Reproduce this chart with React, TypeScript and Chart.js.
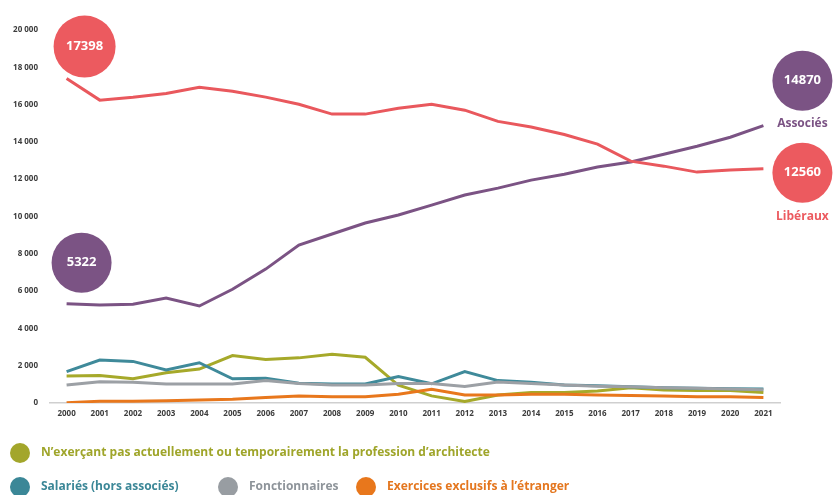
import React, { useEffect, useRef } from "react";
import { Chart, registerables } from "chart.js";

Chart.register(...registerables);

const years = ["2000","2001","2002","2003","2004","2005","2006","2007","2008","2009","2010","2011","2012","2013","2014","2015","2016","2017","2018","2019","2020","2021"];

const liberaux = [17398,16240,16400,16600,16930,16720,16400,16020,15490,15490,15800,16020,15700,15100,14800,14400,13880,12970,12700,12380,12490,12560];
const associes = [5322,5250,5300,5630,5200,6100,7180,8470,9060,9650,10080,10610,11150,11520,11950,12270,12650,12920,13340,13770,14250,14870];
const nonExercants = [1450,1470,1300,1620,1820,2540,2330,2420,2620,2450,950,380,80,430,560,560,640,820,700,670,670,560];
const salaries = [1680,2300,2230,1770,2160,1300,1330,1060,1020,1020,1420,1030,1680,1200,1110,960,930,870,820,790,770,750];
const fonctionnaires = [960,1140,1110,1020,1020,1020,1200,1050,960,960,1050,1050,880,1130,1050,960,900,870,820,790,750,710];
const etranger = [20,100,100,120,160,200,290,380,340,340,470,730,430,430,470,470,430,400,380,340,340,290];

const yTicks = [0,2000,4000,6000,8000,10000,12000,14000,16000,18000,20000];

const legendRows = [
  [{ label: "N\u2019exerçant pas actuellement ou temporairement la profession d\u2019architecte", color: "#a3a62b", text: "#9fa52a", x: 20 }],
  [
    { label: "Salariés (hors associés)", color: "#3b8797", text: "#3b8797", x: 20 },
    { label: "Fonctionnaires", color: "#989da2", text: "#8e949a", x: 228 },
    { label: "Exercices exclusifs à l\u2019étranger", color: "#e8771c", text: "#e4761e", x: 366 },
  ],
];

const fmt = (v: number) => {
  if (v < 1000) return String(v);
  return `${Math.floor(v / 1000)} ${String(v % 1000).padStart(3, "0")}`;
};

const FONT = "'Open Sans', 'DejaVu Sans', sans-serif";

export default function App() {
  const ref = useRef<HTMLCanvasElement | null>(null);

  useEffect(() => {
    document.body.style.margin = "0";
    const canvas = ref.current;
    if (!canvas) return;
    const last = years.length - 1;

    const bubbles = [
      { ds: 0, idx: 0, dx: 18, dy: -32, r: 31, color: "#ec5a5f" },
      { ds: 1, idx: 0, dx: 15, dy: -41, r: 30, color: "#7b5384" },
      { ds: 1, idx: last, dx: 39, dy: -45, r: 30, color: "#7b5384", label: "Associés", labelDy: 43 },
      { ds: 0, idx: last, dx: 39, dy: 4, r: 30, color: "#ec5a5f", label: "Libéraux", labelDy: 44 },
    ];

    const bubblePlugin = {
      id: "bubbles",
      afterDatasetsDraw(chart: any) {
        const ctx = chart.ctx;
        const xs = chart.scales.x;
        const ys = chart.scales.y;
        ctx.save();
        for (const b of bubbles) {
          const v = chart.data.datasets[b.ds].data[b.idx] as number;
          const cx = xs.getPixelForValue(b.idx) + b.dx;
          const cy = ys.getPixelForValue(v) + b.dy;
          ctx.beginPath();
          ctx.arc(cx, cy, b.r, 0, Math.PI * 2);
          ctx.fillStyle = b.color;
          ctx.fill();
          ctx.fillStyle = "#ffffff";
          ctx.font = `bold 13px ${FONT}`;
          ctx.textAlign = "center";
          ctx.textBaseline = "middle";
          ctx.fillText(String(v), cx, cy);
          if (b.label) {
            ctx.fillStyle = b.color;
            ctx.font = `bold 12px ${FONT}`;
            ctx.fillText(b.label, cx, cy + (b.labelDy as number));
          }
        }
        ctx.restore();
      },
    };

    const legendPlugin = {
      id: "customLegend",
      afterDraw(chart: any) {
        const ctx = chart.ctx;
        ctx.save();
        ctx.font = `bold 12px ${FONT}`;
        ctx.textBaseline = "middle";
        ctx.textAlign = "left";
        const rowY = [453, 487];
        legendRows.forEach((row, ri) => {
          row.forEach((item) => {
            ctx.beginPath();
            ctx.arc(item.x, rowY[ri], 10, 0, Math.PI * 2);
            ctx.fillStyle = item.color;
            ctx.fill();
            ctx.fillStyle = item.text;
            ctx.fillText(item.label, item.x + 21, rowY[ri]);
          });
        });
        ctx.restore();
      },
    };

    const mk = (label: string, data: number[], color: string) => ({
      label,
      data,
      borderColor: color,
      backgroundColor: color,
      borderWidth: 3,
      pointRadius: 0,
      tension: 0,
      fill: false,
    });

    const chart = new Chart(canvas, {
      type: "line",
      data: {
        labels: years,
        datasets: [
          mk("Libéraux", liberaux, "#e9585d"),
          mk("Associés", associes, "#7b5384"),
          mk("Exercices exclusifs à l'étranger", etranger, "#e8771c"),
          mk("Fonctionnaires", fonctionnaires, "#9ca0a5"),
          mk("Salariés (hors associés)", salaries, "#3f8a9a"),
          mk("N'exerçant pas", nonExercants, "#a6a92a"),
        ],
      },
      options: {
        responsive: false,
        animation: false,
        layout: { padding: { top: 30, right: 55, bottom: 70, left: 0 } },
        plugins: { legend: { display: false }, tooltip: { enabled: false } },
        scales: {
          x: {
            offset: true,
            grid: { display: false, drawTicks: false },
            border: { display: true, color: "#cfcfcf", width: 1.5 },
            ticks: {
              padding: 6,
              color: "#3c3c3c",
              font: { family: FONT, size: 8, weight: "bold" },
              maxRotation: 0,
              autoSkip: false,
            },
            afterFit: (s: any) => { s.height = 22; },
          },
          y: {
            min: 0,
            max: 20000,
            afterBuildTicks: (s: any) => { s.ticks = yTicks.map((v) => ({ value: v })); },
            grid: { display: false, drawTicks: false },
            border: { display: false },
            ticks: {
              padding: 12,
              color: "#3c3c3c",
              font: { family: FONT, size: 8, weight: "bold" },
              callback: (v: any) => fmt(Number(v)),
            },
            afterFit: (s: any) => { s.width = 50; },
          },
        },
      },
      plugins: [bubblePlugin, legendPlugin],
    });

    return () => chart.destroy();
  }, []);

  return (
    <div style={{ width: 835, height: 495 }}>
      <canvas ref={ref} width={835} height={495} style={{ display: "block" }} />
    </div>
  );
}
